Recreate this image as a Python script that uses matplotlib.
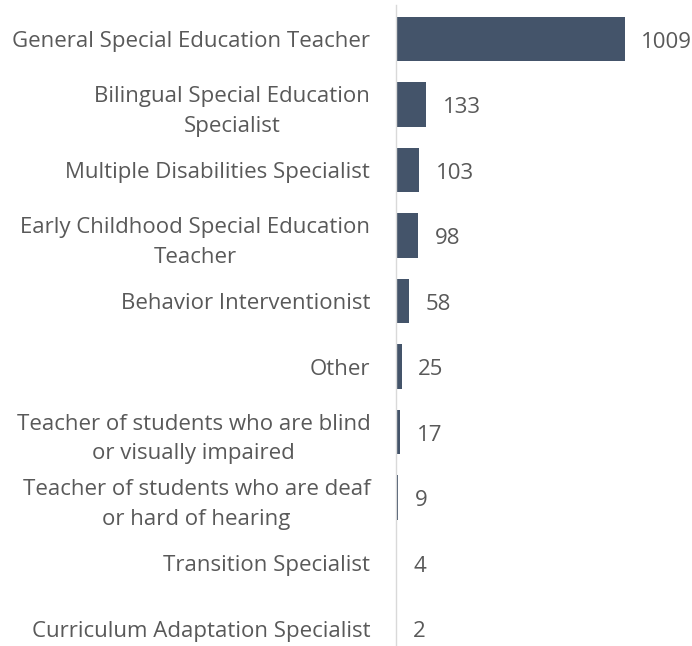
import matplotlib
matplotlib.use("Agg")
import matplotlib.pyplot as plt

categories = [
    "General Special Education Teacher",
    "Bilingual Special Education\nSpecialist",
    "Multiple Disabilities Specialist",
    "Early Childhood Special Education\nTeacher",
    "Behavior Interventionist",
    "Other",
    "Teacher of students who are blind\nor visually impaired",
    "Teacher of students who are deaf\nor hard of hearing",
    "Transition Specialist",
    "Curriculum Adaptation Specialist",
]
values = [1009, 133, 103, 98, 58, 25, 17, 9, 4, 2]

plt.rcParams['font.family'] = ['Open Sans', 'DejaVu Sans']
W, H = 692, 646
fig = plt.figure(figsize=(W / 100, H / 100), dpi=100)
ax = fig.add_axes([396 / W, 0, 1 - 396 / W, (H - 5) / H])

bar_color = "#44546A"
text_color = "#595959"
ypos = list(range(len(categories)))
ax.barh(ypos, values, height=0.672, color=bar_color)
ax.set_xlim(0, 1307)
ax.set_ylim(9.267, -0.519)

for y, v in zip(ypos, values):
    ax.annotate(str(v), xy=(v, y), xytext=(12, -2.2), textcoords="offset points",
                va="center", ha="left", fontsize=16, color=text_color)

ax.set_yticks(ypos)
ax.set_yticklabels(categories, fontsize=16, color=text_color, multialignment="center", linespacing=1.55)
ax.tick_params(axis="y", length=0, pad=18.5)
ax.set_xticks([])
for s in ["top", "right", "bottom"]:
    ax.spines[s].set_visible(False)
ax.spines["left"].set_color("#D9D9D9")
ax.spines["left"].set_linewidth(1.0)

fig.savefig("out.png", dpi=100)
